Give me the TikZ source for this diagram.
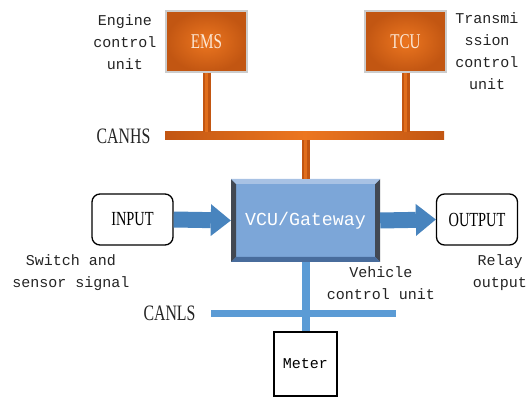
\documentclass[tikz,border=0pt]{standalone}
\usepackage{fontspec}
\setmonofont{Liberation Mono}
\newfontfamily\condserif[FakeStretch=0.72]{Liberation Serif}
\usetikzlibrary{arrows.meta}
\definecolor{ordark}{RGB}{194,86,18}
\definecolor{orlight}{RGB}{236,118,32}
\definecolor{bluestem}{RGB}{91,155,213}
\definecolor{bluearrow}{RGB}{72,132,190}
\definecolor{vcuface}{RGB}{124,166,216}
\definecolor{vcutop}{RGB}{168,194,228}
\definecolor{vcubot}{RGB}{72,108,156}
\definecolor{vcuside}{RGB}{66,72,82}
\definecolor{emstext}{RGB}{252,232,214}
\definecolor{labeltext}{RGB}{35,35,35}
\begin{document}
\begin{tikzpicture}[x=1pt,y=-1pt,
  lab/.style={font=\ttfamily\fontsize{15}{22}\selectfont, align=center, text=labeltext, inner sep=0pt},
  buslab/.style={font=\condserif\fontsize{22}{24}\selectfont, text=labeltext, inner sep=0pt},
  orbox/.style={rectangle, draw=gray!40, line width=1.2pt, inner color=orlight, outer color=ordark,
    text=emstext, font=\condserif\fontsize{21}{24}\selectfont, minimum width=81pt, minimum height=61pt, inner sep=0pt},
  iobox/.style={rectangle, rounded corners=8pt, draw=black, line width=1.3pt, fill=white,
    font=\condserif\fontsize{20}{22}\selectfont, minimum width=81pt, minimum height=51pt, inner sep=0pt},
  bus/.style={rectangle, inner sep=0pt, draw=none},
  orstem/.style={line width=8pt, draw=ordark, postaction={draw=orlight!75!ordark, line width=3pt}},
  bluebar/.style={line width=8pt, draw=bluestem},
  bigarrow/.style={draw=bluearrow, line width=16pt,
    -{Triangle[length=20pt 0 0, width=32pt 0 0, line width=0pt 0 0]}},
  vcubox/.style={rectangle, fill=vcuface, minimum width=149pt, minimum height=83pt, inner sep=0pt,
    text=white, font=\ttfamily\fontsize{18.3}{22}\selectfont,
    path picture={
      \fill[vcuside] (path picture bounding box.north west) -- (path picture bounding box.south west)
        -- ([shift={(5pt,5pt)}]path picture bounding box.south west) -- ([shift={(5pt,-5pt)}]path picture bounding box.north west) -- cycle;
      \fill[vcuside] (path picture bounding box.north east) -- (path picture bounding box.south east)
        -- ([shift={(-5pt,5pt)}]path picture bounding box.south east) -- ([shift={(-5pt,-5pt)}]path picture bounding box.north east) -- cycle;
      \fill[vcutop] (path picture bounding box.north west) -- (path picture bounding box.north east)
        -- ([shift={(-5pt,-5pt)}]path picture bounding box.north east) -- ([shift={(5pt,-5pt)}]path picture bounding box.north west) -- cycle;
      \fill[vcubot] (path picture bounding box.south west) -- (path picture bounding box.south east)
        -- ([shift={(-5pt,5pt)}]path picture bounding box.south east) -- ([shift={(5pt,5pt)}]path picture bounding box.south west) -- cycle;
    }},
  meterbox/.style={rectangle, draw=black, line width=1.3pt, fill=white, minimum width=63pt, minimum height=64pt,
    inner sep=0pt, font=\ttfamily\fontsize{15}{22}\selectfont}
]
\useasboundingbox (0,0) rectangle (528,398);

% top units
\node[orbox] (ems) at (206.5,41.5) {EMS};
\node[orbox] (tcu) at (405.5,41.5) {TCU};
\node[lab] (emslab) at (125,42) {Engine\\control\\unit};
\node[lab] (tculab) at (487,51) {Transmi\\ssion\\control\\unit};

% CANHS bus
\node[bus, minimum width=279pt, minimum height=8pt, left color=ordark, right color=ordark, middle color=orlight] (canhs) at (304.5,136) {};
\node[buslab] (canhslab) at (123.5,136) {CANHS};

% VCU
\node[vcubox] (vcu) at (305.5,220.5) {VCU/Gateway};
\node[lab] (vculab) at (381,283) {Vehicle\\control unit};

% stems to CANHS
\draw[orstem] (ems.south) -- (ems.south |- canhs.north);
\draw[orstem] (tcu.south) -- (tcu.south |- canhs.north);
\draw[orstem] (canhs.south -| vcu.north) -- (vcu.north);

% input / output
\node[iobox] (input) at (132.5,219.5) {INPUT};
\node[iobox] (output) at (477,219.5) {OUTPUT};
\node[lab] (inlab) at (71,273) {Switch and\\sensor signal};
\node[lab] (outlab) at (500,273) {Relay\\output};
\draw[bigarrow] (input.east) -- (vcu.west);
\draw[bigarrow] (vcu.east) -- (output.west);

% CANLS bus
\node[bus, fill=bluestem, minimum width=185pt, minimum height=7pt] (canls) at (303.5,313.5) {};
\node[buslab] (canlslab) at (169.5,313) {CANLS};
\node[meterbox] (meter) at (305.5,364) {Meter};
\draw[bluebar] (vcu.south) -- (meter.north);
\end{tikzpicture}
\end{document}
